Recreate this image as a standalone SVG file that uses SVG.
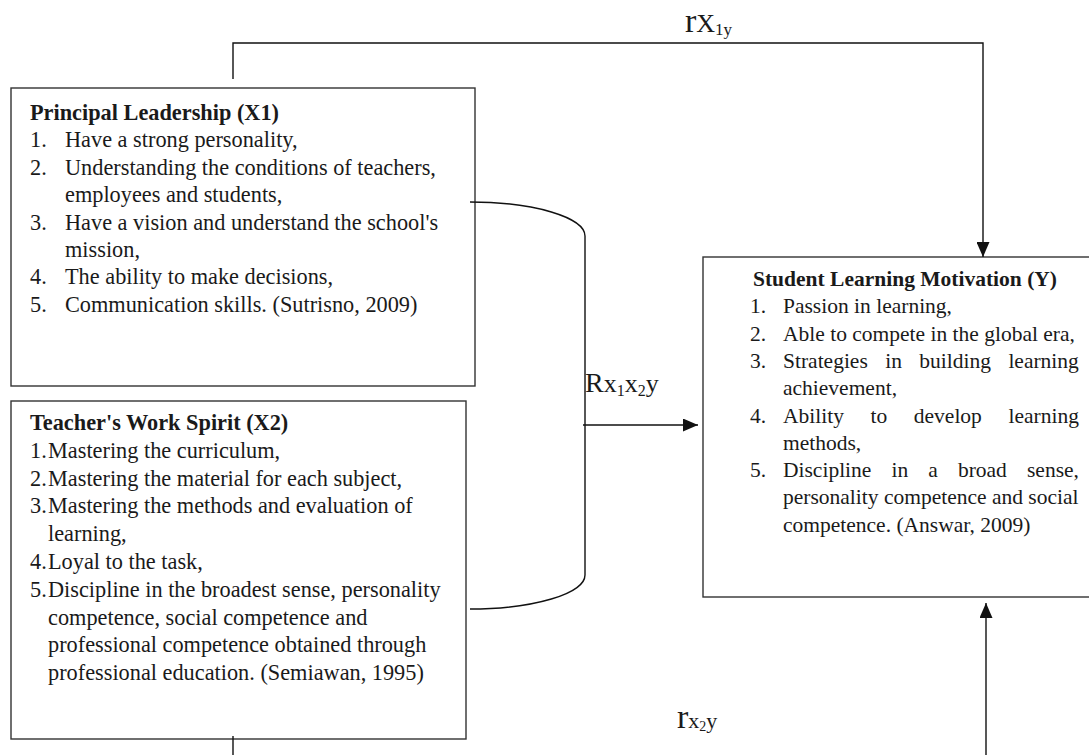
<svg xmlns="http://www.w3.org/2000/svg" width="1089" height="755" viewBox="0 0 1089 755">
  <style>
    .box { fill: #fff; stroke: #333; stroke-width: 1.4; }
    .txt { font-family: "Liberation Serif", "Times New Roman", serif; font-size: 22.3px; fill: #1a1a1a; }
    .txtY { font-family: "Liberation Serif", "Times New Roman", serif; font-size: 21.5px; fill: #1a1a1a; }
    .b { font-weight: bold; }
    .conn { fill: none; stroke: #111; stroke-width: 1.4; }
    .lbl { font-family: "Liberation Serif", "Times New Roman", serif; fill: #1a1a1a; }
  </style>
  <defs>
    <marker id="arrow" viewBox="0 0 15 13" refX="15" refY="6.5" markerWidth="15" markerHeight="13" markerUnits="userSpaceOnUse" orient="auto">
      <path d="M0,0 L15,6.5 L0,13 z" fill="#111"/>
    </marker>
  </defs>

  <rect width="1089" height="755" fill="#fff"/>

  <!-- Principal Leadership (X1) -->
  <g id="node-x1">
    <rect class="box" x="11" y="88" width="464" height="298"/>
    <text class="txt b" x="30" y="120">Principal Leadership (X1)</text>
    <text class="txt"><tspan x="30" y="147.4">1.</tspan><tspan x="65" y="147.4">Have a strong personality,</tspan></text>
    <text class="txt"><tspan x="30" y="174.8">2.</tspan><tspan x="65" y="174.8">Understanding the conditions of teachers,</tspan></text>
    <text class="txt" x="65" y="202.2">employees and students,</text>
    <text class="txt"><tspan x="30" y="229.6">3.</tspan><tspan x="65" y="229.6">Have a vision and understand the school's</tspan></text>
    <text class="txt" x="65" y="257">mission,</text>
    <text class="txt"><tspan x="30" y="284.4">4.</tspan><tspan x="65" y="284.4">The ability to make decisions,</tspan></text>
    <text class="txt"><tspan x="30" y="311.8">5.</tspan><tspan x="65" y="311.8">Communication skills. (Sutrisno, 2009)</tspan></text>
  </g>

  <!-- Teacher's Work Spirit (X2) -->
  <g id="node-x2">
    <rect class="box" x="11" y="401" width="455" height="338"/>
    <text class="txt b" x="30" y="430">Teacher's Work Spirit (X2)</text>
    <text class="txt"><tspan x="30" y="457.8">1.</tspan><tspan x="48" y="457.8">Mastering the curriculum,</tspan></text>
    <text class="txt"><tspan x="30" y="485.6">2.</tspan><tspan x="48" y="485.6">Mastering the material for each subject,</tspan></text>
    <text class="txt"><tspan x="30" y="513.4">3.</tspan><tspan x="48" y="513.4">Mastering the methods and evaluation of</tspan></text>
    <text class="txt" x="48" y="541.2">learning,</text>
    <text class="txt"><tspan x="30" y="569">4.</tspan><tspan x="48" y="569">Loyal to the task,</tspan></text>
    <text class="txt"><tspan x="30" y="596.8">5.</tspan><tspan x="48" y="596.8">Discipline in the broadest sense, personality</tspan></text>
    <text class="txt" x="48" y="624.6">competence, social competence and</text>
    <text class="txt" x="48" y="652.4">professional competence obtained through</text>
    <text class="txt" x="48" y="680.2">professional education. (Semiawan, 1995)</text>
  </g>

  <!-- Student Learning Motivation (Y) -->
  <g id="node-y">
    <rect class="box" x="703" y="257" width="420" height="340"/>
    <text class="txtY b" x="753" y="286">Student Learning Motivation (Y)</text>
    <text class="txtY"><tspan x="750" y="313.3">1.</tspan><tspan x="783" y="313.3">Passion in learning,</tspan></text>
    <text class="txtY"><tspan x="750" y="340.6">2.</tspan><tspan x="783" y="340.6">Able to compete in the global era,</tspan></text>
    <text class="txtY"><tspan x="750" y="367.9">3.</tspan><tspan x="783" y="367.9">Strategies</tspan><tspan x="885.2" y="367.9">in</tspan><tspan x="919.3" y="367.9">building</tspan><tspan x="1008.4" y="367.9">learning</tspan></text>
    <text class="txtY" x="783" y="395.2">achievement,</text>
    <text class="txtY"><tspan x="750" y="422.5">4.</tspan><tspan x="783" y="422.5">Ability</tspan><tspan x="870.5" y="422.5">to</tspan><tspan x="913.8" y="422.5">develop</tspan><tspan x="1008.5" y="422.5">learning</tspan></text>
    <text class="txtY" x="783" y="449.8">methods,</text>
    <text class="txtY"><tspan x="750" y="477.1">5.</tspan><tspan x="783" y="477.1">Discipline</tspan><tspan x="891.5" y="477.1">in</tspan><tspan x="928.3" y="477.1">a</tspan><tspan x="957.9" y="477.1">broad</tspan><tspan x="1027" y="477.1">sense,</tspan></text>
    <text class="txtY" x="783" y="504.4">personality competence and social</text>
    <text class="txtY" x="783" y="531.7">competence. (Answar, 2009)</text>
  </g>

  <!-- Paths between the variables -->
  <g id="connectors">
    <polyline class="conn" points="233,79 233,43 983,43 983,257" marker-end="url(#arrow)"/>
    <path class="conn" d="M470,202 A115,34 0 0 1 585,236 L585,575 A115,34 0 0 1 470,609"/>
    <line class="conn" x1="583" y1="425" x2="698" y2="425" marker-end="url(#arrow)"/>
    <line class="conn" x1="233" y1="736" x2="233" y2="755"/>
    <line class="conn" x1="986" y1="755" x2="986" y2="603" marker-end="url(#arrow)"/>
  </g>

  <!-- Coefficient labels -->
  <g id="labels">
    <text class="lbl" x="685" y="32"><tspan font-size="34">r</tspan><tspan font-size="26">X</tspan><tspan font-size="17" dy="3">1y</tspan></text>
    <text class="lbl" x="585" y="392"><tspan font-size="28">R</tspan><tspan font-size="26">x</tspan><tspan font-size="16" dy="4">1</tspan><tspan font-size="26" dy="-4">x</tspan><tspan font-size="16" dy="4">2</tspan><tspan font-size="26" dy="-4">y</tspan></text>
    <text class="lbl" x="677" y="728"><tspan font-size="34">r</tspan><tspan font-size="22">x</tspan><tspan font-size="14" dy="3">2</tspan><tspan font-size="22" dy="-3">y</tspan></text>
  </g>
</svg>
